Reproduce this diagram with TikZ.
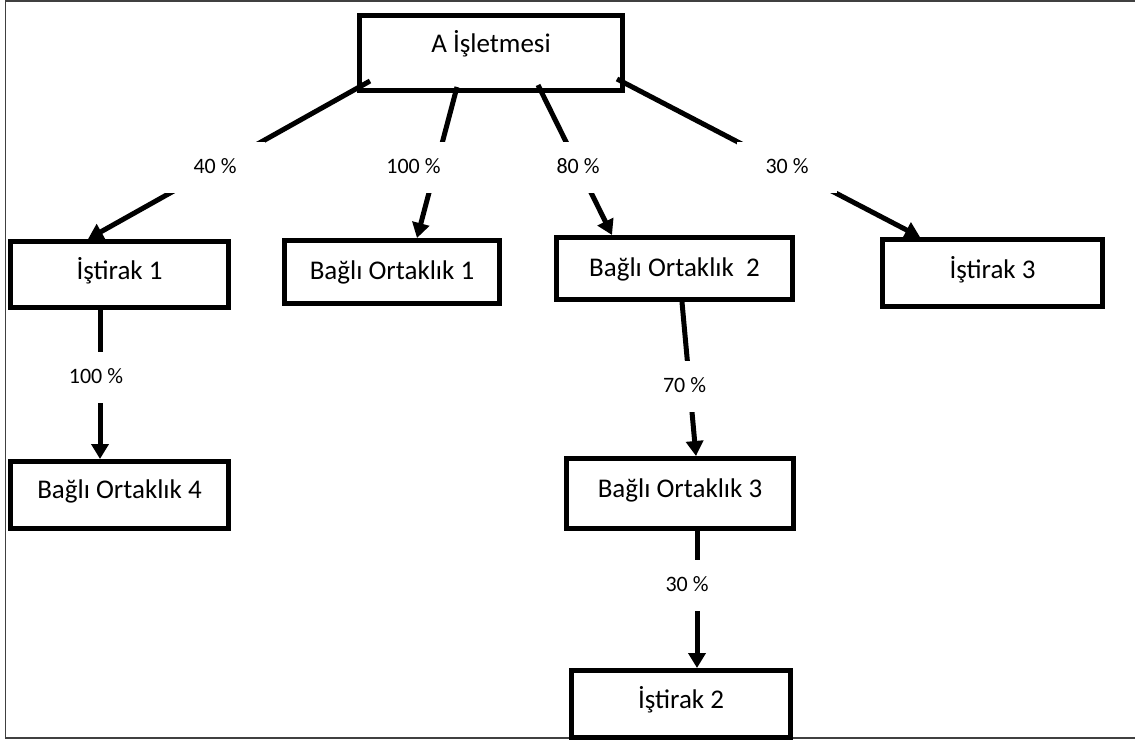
\documentclass[tikz,border=0pt]{standalone}
\usepackage{fontspec}
\setmainfont{Carlito}
\usetikzlibrary{arrows.meta,calc}
\begin{document}
\begin{tikzpicture}[x=1pt,y=-1pt,
  box/.style={draw, line width=5pt, rectangle, inner sep=0pt},
  boxtext/.style={anchor=base, inner sep=0pt, font=\fontsize{27}{32}\selectfont},
  link/.style={line width=5pt, -{Triangle[length=15pt,width=17pt]}},
  pct/.style={fill=white, anchor=base, font=\fontsize{22}{26}\selectfont,
    text height=14pt, text depth=3pt, inner ysep=17pt, inner xsep=0pt,
    minimum width=100pt},
  frame/.style={line width=1.5pt, black!75}]
\useasboundingbox (0,0) rectangle (1135,742);

% outer frame (its right side lies past the page edge)
\draw[frame] (1145,0.75) -- (5.5,0.75) -- (5.5,738) -- (1145,738);

% boxes
\node[box, minimum width=263pt, minimum height=75pt] (A)   at (491,53)     {};
\node[box, minimum width=218pt, minimum height=66pt] (I1)  at (119.5,274.5) {};
\node[box, minimum width=215pt, minimum height=63pt] (BO1) at (392,272)    {};
\node[box, minimum width=236pt, minimum height=62pt] (BO2) at (674.5,268.5) {};
\node[box, minimum width=220pt, minimum height=67pt] (I3)  at (992.5,273)  {};
\node[box, minimum width=218pt, minimum height=67pt] (BO4) at (119.5,495)  {};
\node[box, minimum width=227pt, minimum height=70pt] (BO3) at (680,493.5)  {};
\node[box, minimum width=219pt, minimum height=67pt] (I2)  at (681,704)    {};

% box captions
\node[boxtext] (At)   at (491,52)    {A İşletmesi};
\node[boxtext] (I1t)  at (119.5,279) {İştirak 1};
\node[boxtext] (BO1t) at (392,279)   {Bağlı Ortaklık 1};
\node[boxtext] (BO2t) at (674.5,276) {Bağlı Ortaklık\ \ 2};
\node[boxtext] (I3t)  at (992.5,278) {İştirak 3};
\node[boxtext] (BO4t) at (119.5,498) {Bağlı Ortaklık 4};
\node[boxtext] (BO3t) at (680,497)   {Bağlı Ortaklık 3};
\node[boxtext] (I2t)  at (681,708)   {İştirak 2};

% ownership links
\draw[link] ([shift={(13,-12)}]A.south west)  -- ([shift={(80,0)}]I1.north west);
\draw[link] ([shift={(100,-6)}]A.south west)  -- ([shift={(135,0)}]BO1.north west);
\draw[link] ([shift={(181,-8)}]A.south west)  -- ([shift={(58,0)}]BO2.north west);
\draw[link] ([shift={(260,-14)}]A.south west) -- ([shift={(40,0)}]I3.north west);
\draw[link] ([shift={(92,0)}]I1.south west)   -- ([shift={(92,0)}]BO4.north west);
\draw[link] ([shift={(128,0)}]BO2.south west) -- ([shift={(132,0)}]BO3.north west);
\draw[link] ([shift={(133,0)}]BO3.south west) -- ([shift={(128,0)}]I2.north west);

% percentage labels
\node[pct] (p1) at (215,173)   {40 \%};
\node[pct] (p2) at (413.5,173) {100 \%};
\node[pct] (p3) at (578,173)   {80 \%};
\node[pct] (p4) at (787,173)   {30 \%};
\node[pct] (p5) at (96,383)    {100 \%};
\node[pct] (p6) at (684.5,392) {70 \%};
\node[pct] (p7) at (687,591)   {30 \%};
\end{tikzpicture}
\end{document}
